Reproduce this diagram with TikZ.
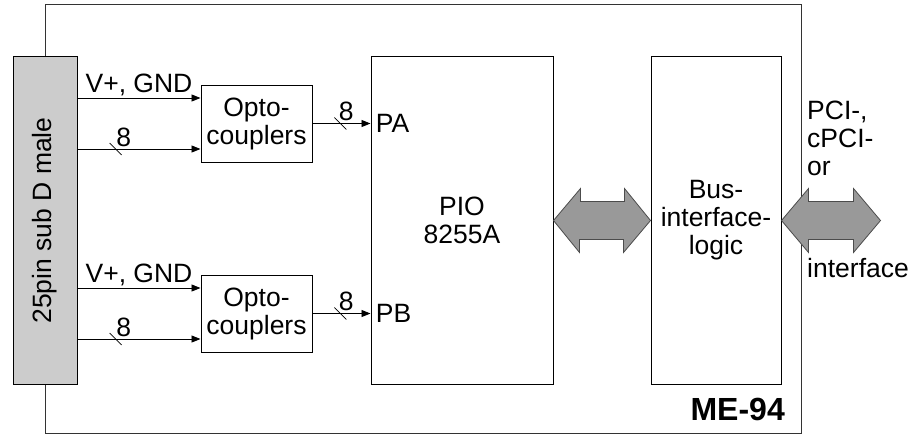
\documentclass[tikz,border=0pt]{standalone}
\usepackage{fontspec}
\setmainfont{Liberation Sans}
\usetikzlibrary{arrows.meta,positioning,calc}

\begin{document}
\begin{tikzpicture}[
            x=1pt,y=1pt,
            >=Triangle,
            every node/.style={font=\fontsize{26.5}{28}\selectfont},
            block/.style={draw,rectangle,line width=1pt,fill=white,align=center,inner sep=0pt},
            conn/.style={draw,rectangle,line width=1pt,fill=black!20,inner sep=0pt,
                         minimum width=64,minimum height=327},
            lab/.style={align=left,inner sep=2pt},
            line/.style={-{Triangle[length=9pt,width=7pt]},line width=0.8pt},
            bigarrow/.style={fill=gray!80,draw=black!70,line width=0.8pt}
        ]
        \useasboundingbox (0,0) rectangle (909,-436);
        % board frame
        \draw[line width=1pt,draw=black!80] (45,-5) rectangle (801,-433);
        \node[anchor=base east,inner sep=0pt,font=\fontsize{32}{34}\selectfont\bfseries]
            (board) at (785,-420) {ME-94};
        % blocks
        \node[conn] (sub) at (45,-220.5) {};
        \node[rotate=90] at (sub) {25pin sub D male};
        \node[block,minimum width=111,minimum height=77] (opto1) at (256.5,-123.5) {Opto-\\couplers};
        \node[block,minimum width=111,minimum height=77] (opto2) at (256.5,-313.5) {Opto-\\couplers};
        \node[block,minimum width=182,minimum height=327] (pio) at (462,-220.5) {PIO\\8255A};
        \node[block,minimum width=130,minimum height=327] (bus) at (716,-220.5) {Bus-\\interface-\\logic};
        % inputs of the optocouplers
        \foreach \o in {opto1,opto2}{
            \coordinate (pwr) at ([yshift=25.5pt]\o.west);
            \coordinate (dat) at ([yshift=-25.5pt]\o.west);
            \draw[line] (sub.east |- pwr) -- node[above,lab]{V+, GND} (pwr);
            \draw[line] (sub.east |- dat) -- coordinate[pos=0.31] (s)
                node[pos=0.375,above,lab]{8} (dat);
            \draw[line width=0.6pt] (s) +(-6,6) -- +(6,-6);
        }
        % ports
        \draw[line] (opto1.east) -- coordinate[pos=0.48] (pa)
            node[pos=0.58,above,lab]{8} (pio.west |- opto1.east) node[right,lab,xshift=3pt]{PA};
        \draw[line width=0.6pt] (pa) +(-6,6) -- +(6,-6);
        \draw[line] (opto2.east) -- coordinate[pos=0.48] (pb)
            node[pos=0.58,above,lab]{8} (pio.west |- opto2.east) node[right,lab,xshift=3pt]{PB};
        \draw[line width=0.6pt] (pb) +(-6,6) -- +(6,-6);
        % data bus
        \filldraw[bigarrow] (pio.east) -- ++(27,32) -- ++(0,-13) -- ++(44,0) -- ++(0,13)
            -- (bus.west) -- ++(-27,-32) -- ++(0,13) -- ++(-44,0) -- ++(0,-13) -- cycle;
        \filldraw[bigarrow] (bus.east) -- ++(27,32) -- ++(0,-13) -- ++(45,0) -- ++(0,13)
            -- ++(27,-32) -- ++(-27,-32) -- ++(0,13) -- ++(-45,0) -- ++(0,-13) -- cycle;
        \node[lab,anchor=north west] (pci) at (805,-99) {PCI-,\\cPCI-\\or};
        \node[lab,anchor=west] (iface) at (805,-268) {interface};
\end{tikzpicture}
\end{document}
